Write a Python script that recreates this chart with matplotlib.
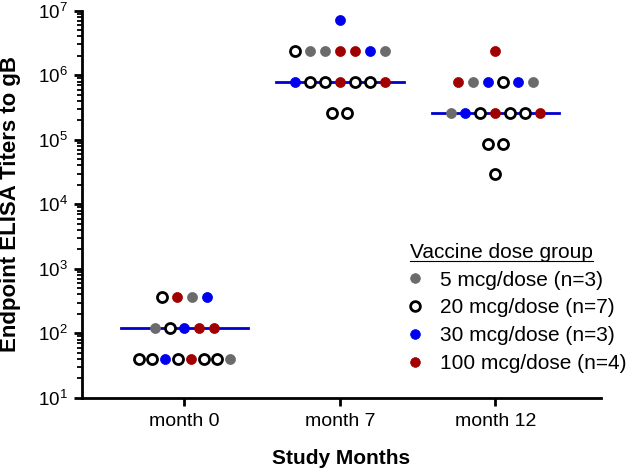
import numpy as np
import matplotlib
matplotlib.use("Agg")
import matplotlib.pyplot as plt
from matplotlib.lines import Line2D
from matplotlib.ticker import LogLocator, NullFormatter

plt.rcParams['font.family'] = ['Liberation Sans', 'DejaVu Sans']
plt.rcParams['mathtext.default'] = 'regular'

months = ['month 0', 'month 7', 'month 12']
groups = ['5', '20', '30', '100']
group_labels = ['5 mcg/dose (n=3)', '20 mcg/dose (n=7)',
                '30 mcg/dose (n=3)', '100 mcg/dose (n=4)']
decades = [1e1, 1e2, 1e3, 1e4, 1e5, 1e6, 1e7]

# titers per animal, in plotting order within each row (3-fold dilutions)
m0_vals = [360] * 4 + [120] * 5 + [40] * 8
m0_grp = ['20', '100', '5', '30',
          '5', '20', '30', '100', '100',
          '20', '20', '30', '20', '100', '20', '20', '5']
m7_vals = [7085880] + [2361960] * 7 + [787320] * 7 + [262440] * 2
m7_grp = ['30',
          '20', '5', '5', '100', '100', '30', '5',
          '30', '20', '20', '100', '20', '20', '100',
          '20', '20']
m12_vals = [2361960] + [787320] * 6 + [262440] * 7 + [87480] * 2 + [29160]
m12_grp = ['100',
           '100', '5', '30', '20', '30', '5',
           '5', '30', '20', '100', '20', '20', '100',
           '20', '20',
           '20']

all_vals = [m0_vals, m7_vals, m12_vals]
all_grp = [m0_grp, m7_grp, m12_grp]

style = {
    '5': dict(facecolor='#6b6b6b', edgecolor='#6b6b6b', linewidths=0.5),
    '20': dict(facecolor='white', edgecolor='black', linewidths=2.0),
    '30': dict(facecolor='#0000ee', edgecolor='#0000ee', linewidths=0.5),
    '100': dict(facecolor='#a00000', edgecolor='#a00000', linewidths=0.5),
}

fig = plt.figure(figsize=(6.3, 4.68), dpi=100)
ax = fig.add_axes([0.130, 0.150, 0.824, 0.827])

for i, (vals, grps) in enumerate(zip(all_vals, all_grp)):
    vals = np.array(vals)
    # spread equal values side by side
    xs = np.zeros(len(vals))
    for v in np.unique(vals):
        idx = np.where(vals == v)[0]
        n = len(idx)
        step = 0.096 if n <= 7 else 0.083
        xs[idx] = i + (np.arange(n) - (n - 1) / 2) * step
    for g in groups:
        m = np.array([gg == g for gg in grps])
        ax.scatter(xs[m], vals[m], s=52, zorder=3, **style[g])
    med = np.median(vals)
    ax.plot([i - 0.41, i + 0.41], [med, med], color='#0000cc', lw=2, zorder=2)

ax.set_yscale('log')
ax.set_ylim(10, 1e7)
ax.set_xlim(-0.66, 2.68)
ax.set_xticks(range(len(months)))
ax.set_xticklabels(months, fontsize=14)
ax.set_yticks(decades)
ax.yaxis.set_minor_locator(LogLocator(base=10, subs=np.arange(2, 10), numticks=20))
ax.yaxis.set_minor_formatter(NullFormatter())
ax.tick_params(axis='y', which='major', labelsize=13.5, length=6, width=2, pad=4)
ax.tick_params(axis='y', which='minor', length=3.5, width=1.3)
ax.tick_params(axis='x', which='major', length=6, width=2, pad=5)
for s in ['top', 'right']:
    ax.spines[s].set_visible(False)
for s in ['left', 'bottom']:
    ax.spines[s].set_linewidth(2)

ax.set_ylabel('Endpoint ELISA Titers to gB', fontsize=16, fontweight='bold')
ax.yaxis.set_label_coords(-0.118, 0.5)
ax.set_xlabel('Study Months', fontsize=15, fontweight='bold')
ax.xaxis.set_label_coords(0.5, -0.132)

handles = [Line2D([], [], linestyle='none', marker='o', markersize=7,
                  markerfacecolor=style[g]['facecolor'],
                  markeredgecolor=style[g]['edgecolor'],
                  markeredgewidth=style[g]['linewidths']) for g in groups]
leg = ax.legend(handles, group_labels, title='Vaccine dose group',
                loc='upper left', bbox_to_anchor=(0.632, 0.40), frameon=False,
                fontsize=15, title_fontsize=15, alignment='left',
                handletextpad=0.95, labelspacing=0.42, handlelength=0.5,
                borderaxespad=0, borderpad=0)

fig.canvas.draw()
bb = leg.get_title().get_window_extent().transformed(fig.transFigure.inverted())
fig.add_artist(Line2D([bb.x0, bb.x1], [bb.y0 + 0.003, bb.y0 + 0.003],
                      color='black', lw=0.8, transform=fig.transFigure))

fig.savefig('out.png', dpi=100)
